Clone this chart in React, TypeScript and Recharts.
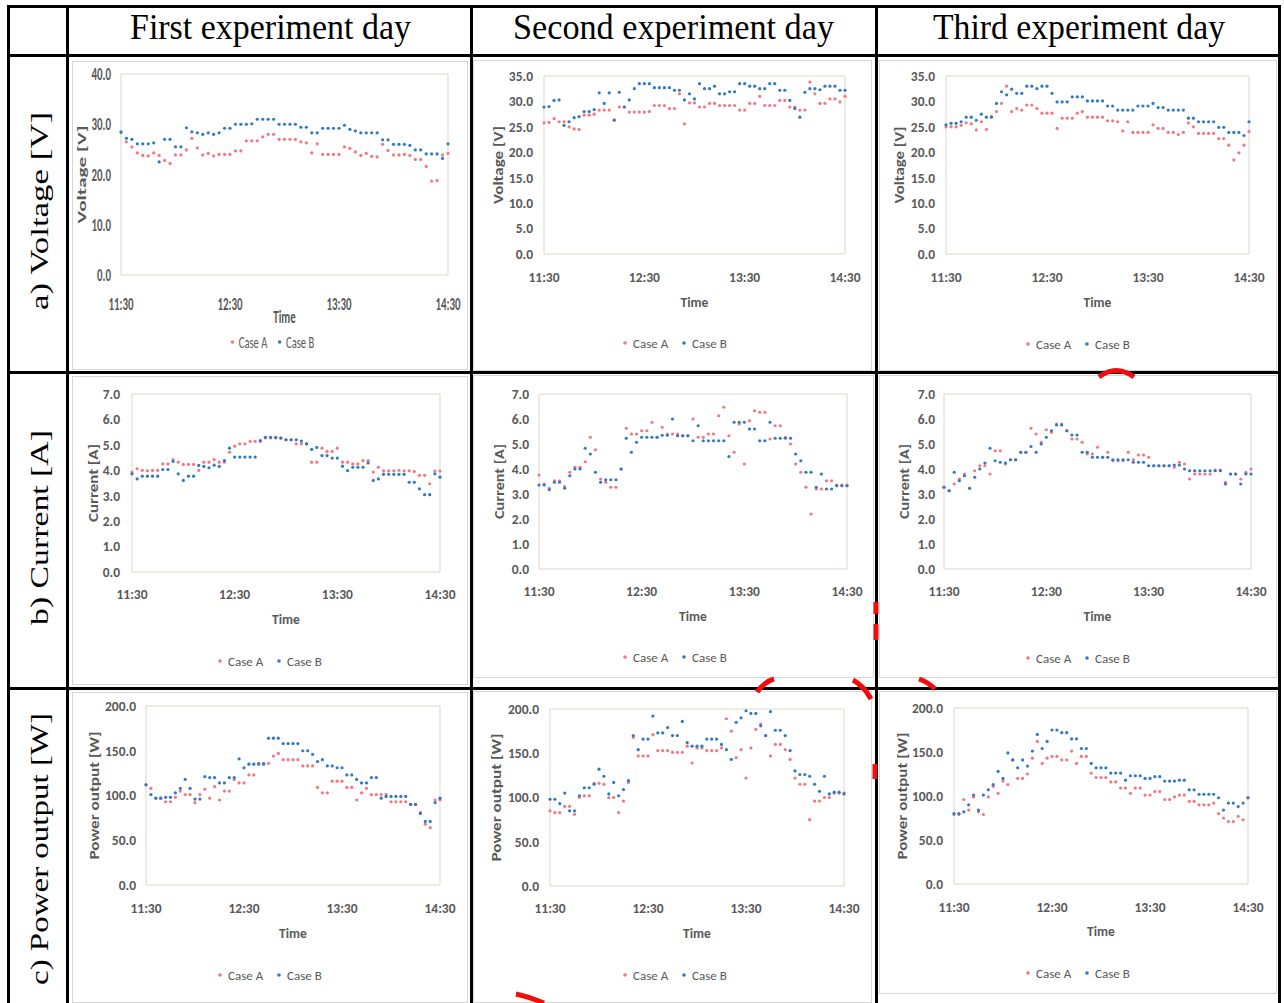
/**
 * Three experiment days x three quantities (voltage, current, power),
 * Case A vs Case B scatter panels laid out in a bordered table.
 */
import { ScatterChart, Scatter, XAxis, YAxis, ReferenceArea } from 'recharts';

const CHART_FONT = "Carlito, Lato, 'Open Sans', sans-serif";
const SERIF = "'Liberation Serif', 'Times New Roman', serif";
const RED = '#F3777F';
const BLUE = '#2E7AC4';
const GREY = '#595959';

// minutes after 11:30, one sample every 3 min
const TIME_MIN = [
  0, 3, 6, 9, 12, 15, 18, 21, 24, 27,
  30, 33, 36, 39, 42, 45, 48, 51, 54, 57,
  60, 63, 66, 69, 72, 75, 78, 81, 84, 87,
  90, 93, 96, 99, 102, 105, 108, 111, 114, 117,
  120, 123, 126, 129, 132, 135, 138, 141, 144, 147,
  150, 153, 156, 159, 162, 165, 168, 171, 174, 177,
  180,
];
const X_TICKS = [0, 60, 120, 180];
const X_TICK_LABELS = ['11:30', '12:30', '13:30', '14:30'];
const V_TICKS_40 = [0, 10, 20, 30, 40];
const V_TICKS_35 = [0, 5, 10, 15, 20, 25, 30, 35];
const I_TICKS = [0, 1, 2, 3, 4, 5, 6, 7];
const P_TICKS = [0, 50, 100, 150, 200];
const DAY_TITLES = ['First experiment day', 'Second experiment day', 'Third experiment day'];
const ROW_TITLES = ['a) Voltage [V]', 'b) Current [A]', 'c) Power output [W]'];
const Y_TITLES = ['Voltage [V]', 'Current [A]', 'Power output [W]'];
const SERIES_NAMES = ['Case A', 'Case B'];

// ---- voltage [V]
const V1_A = [
  28.3, 26.5, 25.5, 24.3, 23.8, 23.7, 24.3, 23.8, 22.8, 22.2,
  23.9, 23.9, 24.9, 27.2, 25.3, 23.9, 24.2, 23.7, 24.0, 24.0,
  24.0, 24.7, 24.7, 26.7, 26.7, 26.7, 27.5, 28.0, 28.0, 27.0,
  27.0, 27.0, 27.0, 26.5, 26.3, 24.3, 26.1, 24.0, 24.0, 24.0,
  24.0, 25.5, 25.2, 24.5, 23.8, 24.2, 23.6, 23.5, 26.0, 24.8,
  23.9, 23.9, 24.0, 23.8, 23.0, 23.0, 21.6, 18.7, 18.8, 23.9,
  24.2,
];
const V1_B = [
  28.5, 27.2, 27.0, 26.1, 26.1, 26.1, 26.3, 22.5, 27.0, 27.0,
  25.5, 25.5, 29.3, 28.5, 28.3, 28.0, 28.3, 28.0, 28.3, 29.2,
  29.2, 30.0, 30.0, 30.0, 30.1, 31.0, 31.0, 31.0, 31.0, 30.0,
  30.0, 30.0, 30.0, 29.4, 29.4, 28.3, 28.3, 29.2, 29.2, 29.2,
  29.2, 29.8, 29.0, 28.7, 28.3, 28.3, 28.3, 28.3, 26.9, 26.9,
  26.0, 26.0, 26.0, 25.8, 24.9, 24.9, 24.1, 24.1, 24.1, 23.2,
  26.1,
];
const V2_A = [
  25.8, 25.9, 26.6, 26.0, 26.0, 25.0, 24.6, 24.5, 27.3, 27.3,
  27.5, 28.3, 28.3, 28.3, 26.4, 28.9, 28.9, 27.9, 27.9, 27.9,
  27.9, 28.0, 29.2, 29.2, 29.2, 28.6, 28.6, 31.5, 25.6, 29.7,
  29.7, 28.9, 28.9, 29.6, 29.6, 29.2, 29.2, 29.2, 29.2, 28.3,
  28.3, 29.6, 29.6, 31.0, 29.2, 29.2, 29.2, 30.2, 30.2, 28.9,
  28.9, 28.3, 28.3, 33.8, 31.5, 29.6, 29.6, 30.5, 30.5, 29.9,
  31.0,
];
const V2_B = [
  28.9, 29.0, 30.2, 30.3, 25.3, 26.0, 26.8, 27.0, 28.0, 28.0,
  28.4, 31.7, 29.6, 31.7, 26.3, 31.8, 28.9, 30.3, 32.5, 33.5,
  33.5, 33.5, 32.7, 32.7, 32.7, 32.7, 32.2, 32.2, 30.3, 31.5,
  30.5, 33.5, 32.5, 32.5, 33.0, 31.5, 31.5, 31.9, 31.9, 33.5,
  33.5, 33.0, 33.0, 32.5, 32.5, 33.5, 33.5, 32.2, 32.2, 30.2,
  28.6, 26.9, 31.8, 32.5, 32.5, 32.3, 33.0, 33.0, 33.0, 32.2,
  32.2,
];
const V3_A = [
  25.0, 25.0, 25.0, 25.3, 25.8, 25.6, 24.4, 26.0, 24.5, 27.0,
  28.0, 29.6, 33.0, 28.0, 28.6, 28.3, 29.3, 29.3, 28.6, 27.7,
  27.7, 27.7, 24.7, 26.7, 26.7, 26.7, 27.7, 28.0, 26.9, 26.9,
  26.9, 26.9, 26.2, 26.2, 26.0, 24.2, 26.0, 23.9, 23.9, 23.9,
  23.9, 25.4, 24.7, 24.7, 23.9, 23.9, 23.5, 23.9, 25.8, 25.0,
  23.7, 23.7, 23.7, 23.7, 22.7, 22.7, 21.4, 18.5, 19.9, 21.4,
  24.1,
];
const V3_B = [
  25.4, 25.7, 25.7, 26.0, 26.9, 26.9, 26.3, 27.5, 26.9, 26.9,
  29.6, 31.9, 31.3, 32.4, 31.6, 31.6, 33.0, 33.0, 32.5, 33.0,
  33.0, 31.6, 29.9, 29.9, 29.9, 30.9, 30.9, 30.9, 30.1, 30.1,
  30.1, 30.1, 29.1, 29.1, 28.3, 28.3, 28.3, 28.3, 29.1, 29.1,
  29.1, 29.6, 28.8, 28.8, 28.3, 28.3, 28.3, 28.3, 26.7, 26.7,
  26.0, 26.0, 26.0, 26.0, 24.9, 24.9, 23.9, 23.9, 23.9, 23.3,
  26.0,
];

// ---- current [A]
const I1_A = [
  3.93, 4.06, 4.0, 3.98, 4.0, 4.0, 4.25, 4.25, 4.42, 4.32,
  4.23, 4.23, 4.23, 4.0, 4.32, 4.32, 4.42, 4.32, 4.32, 4.71,
  4.95, 5.04, 5.04, 5.14, 5.14, 5.14, 5.27, 5.27, 5.27, 5.25,
  5.2, 5.2, 5.04, 5.04, 5.04, 4.32, 4.32, 4.87, 4.74, 4.74,
  4.87, 4.32, 4.32, 4.25, 4.25, 4.38, 4.38, 3.93, 4.12, 3.98,
  3.98, 3.98, 4.0, 3.98, 3.98, 3.95, 3.8, 3.8, 3.47, 3.97,
  3.97,
];
const I1_B = [
  3.86, 3.66, 3.77, 3.77, 3.77, 3.77, 4.03, 4.03, 4.35, 3.86,
  3.6, 3.77, 3.77, 4.19, 4.15, 4.1, 4.2, 4.15, 4.38, 4.87,
  4.52, 4.52, 4.52, 4.52, 4.52, 5.17, 5.3, 5.3, 5.3, 5.28,
  5.2, 5.2, 5.2, 5.15, 5.04, 4.82, 4.9, 4.58, 4.58, 4.48,
  4.48, 4.16, 3.99, 4.12, 4.12, 4.12, 4.29, 3.6, 3.66, 3.84,
  3.84, 3.84, 3.84, 3.84, 3.53, 3.53, 3.27, 3.04, 3.04, 3.86,
  3.73,
];
const I2_A = [
  3.76, 3.4, 3.23, 3.53, 3.53, 3.3, 3.87, 4.07, 4.07, 4.29,
  5.27, 4.77, 3.6, 3.47, 3.27, 3.27, 4.0, 5.63, 5.4, 5.4,
  5.53, 5.53, 5.87, 5.27, 5.67, 5.4, 5.4, 5.4, 5.33, 5.33,
  6.0, 5.27, 5.27, 5.4, 5.4, 6.13, 6.47, 5.33, 4.67, 5.8,
  4.2, 5.93, 6.33, 6.27, 6.27, 5.2, 5.73, 5.73, 5.27, 5.0,
  4.2, 3.87, 3.27, 2.2, 3.2, 3.2, 3.53, 3.53, 3.36, 3.36,
  3.36,
];
const I2_B = [
  3.36, 3.36, 3.17, 3.47, 3.47, 3.23, 3.73, 4.0, 4.0, 4.83,
  4.6, 3.87, 3.47, 3.57, 3.57, 3.57, 4.0, 5.23, 4.67, 5.07,
  5.27, 5.27, 5.27, 5.27, 5.35, 5.35, 6.0, 5.33, 5.33, 5.33,
  5.13, 5.73, 5.13, 5.13, 5.13, 5.13, 5.13, 4.5, 5.87, 5.87,
  5.87, 5.6, 5.6, 5.13, 5.13, 5.87, 5.23, 5.23, 5.23, 5.23,
  4.6, 4.33, 3.87, 3.87, 3.27, 3.8, 3.2, 3.2, 3.33, 3.33,
  3.33,
];
const I3_A = [
  3.27, 3.13, 3.4, 3.6, 3.8, 3.23, 3.93, 4.13, 4.13, 3.8,
  4.73, 4.73, 4.2, 4.37, 4.37, 4.67, 4.67, 5.63, 5.4, 5.07,
  5.57, 5.47, 5.8, 5.8, 5.53, 5.2, 5.2, 5.07, 4.6, 4.6,
  4.87, 4.47, 4.67, 4.33, 4.33, 4.33, 4.67, 4.37, 4.56, 4.56,
  4.47, 4.13, 4.13, 4.13, 4.13, 4.07, 4.27, 4.2, 3.6, 3.8,
  3.8, 3.8, 3.8, 3.96, 3.96, 3.47, 3.8, 3.8, 3.6, 3.87,
  4.0,
];
const I3_B = [
  3.27, 3.13, 3.87, 3.53, 3.73, 3.23, 3.67, 4.0, 4.24, 4.83,
  4.33, 4.27, 4.24, 4.37, 4.37, 4.67, 4.67, 4.9, 4.67, 5.0,
  5.27, 5.53, 5.76, 5.76, 5.53, 5.36, 5.36, 4.67, 4.67, 4.47,
  4.47, 4.47, 4.47, 4.37, 4.37, 4.37, 4.37, 4.27, 4.27, 4.27,
  4.13, 4.13, 4.13, 4.13, 4.13, 4.16, 4.16, 4.0, 3.93, 3.93,
  3.93, 3.93, 3.93, 3.93, 3.93, 3.4, 3.8, 3.8, 3.4, 3.8,
  3.8,
];

// ---- power output [W]
const P1_A = [
  112, 108, 97, 97, 93, 93, 98, 105, 101, 101,
  92, 101, 107, 97, 110, 95, 105, 105, 118, 114,
  114, 123, 123, 136, 136, 136, 144, 147, 140, 140,
  140, 140, 133, 133, 133, 109, 103, 103, 116, 116,
  116, 109, 109, 95, 103, 108, 101, 101, 101, 101,
  93, 93, 93, 93, 90, 90, 81, 68, 64, 95,
  95,
];
const P1_B = [
  112, 101, 97, 97, 98, 98, 103, 108, 118, 108,
  96, 96, 121, 120, 120, 114, 114, 120, 120, 141,
  131, 135, 135, 135, 135, 164, 164, 164, 158, 158,
  158, 158, 150, 150, 146, 138, 140, 133, 133, 131,
  131, 123, 123, 118, 114, 114, 120, 120, 97, 99,
  99, 99, 99, 99, 90, 90, 80, 71, 71, 92,
  97,
];
const P2_A = [
  85, 83, 83, 90, 90, 81, 100, 102, 102, 116,
  116, 115, 100, 100, 83, 96, 117, 168, 147, 147,
  147, 171, 153, 153, 153, 151, 151, 151, 158, 139,
  156, 156, 153, 153, 153, 156, 189, 175, 145, 154,
  122, 156, 177, 183, 170, 147, 160, 160, 154, 143,
  122, 115, 115, 75, 96, 96, 100, 100, 105, 105,
  105,
];
const P2_B = [
  98, 98, 93, 105, 85, 85, 102, 111, 111, 115,
  132, 124, 104, 117, 102, 109, 119, 170, 154, 166,
  166, 192, 173, 173, 179, 170, 170, 186, 162, 158,
  158, 158, 166, 166, 166, 160, 154, 143, 185, 190,
  198, 195, 195, 181, 170, 197, 176, 176, 170, 153,
  130, 126, 126, 124, 115, 107, 124, 104, 106, 106,
  104,
];
const P3_A = [
  79, 79, 96, 84, 99, 82, 79, 99, 111, 103,
  117, 113, 141, 120, 120, 125, 143, 162, 137, 143,
  145, 145, 141, 141, 151, 137, 145, 145, 126, 121,
  121, 121, 116, 116, 109, 109, 103, 109, 109, 101,
  101, 105, 105, 96, 96, 99, 101, 101, 94, 94,
  90, 90, 90, 92, 80, 75, 71, 71, 77, 73,
  98,
];
const P3_B = [
  80, 80, 82, 90, 101, 84, 101, 107, 113, 128,
  120, 149, 141, 132, 141, 134, 151, 170, 154, 162,
  175, 175, 172, 172, 165, 165, 154, 154, 137, 132,
  132, 132, 126, 126, 126, 118, 123, 123, 123, 120,
  120, 122, 122, 117, 117, 117, 118, 118, 107, 107,
  102, 102, 102, 102, 98, 84, 92, 92, 88, 92,
  98,
];

type Panel = {
  frame: [number, number, number, number]; // left, top, width, height (page px)
  plot: [number, number, number, number]; // plot area left, top, right, bottom (page px)
  ticks: number[];
  yTitle: string;
  a: number[];
  b: number[];
  yGap: number; // tick text right edge -> plot left
  xGap: number; // plot bottom -> x tick text centre
  titleX: number;
  titleLen: number;
  titleFs: number;
  timeY: number;
  legendX: number;
  legendY: number;
  fs: number;
  sx: number; // horizontal squeeze of the (stretched) first picture
};

const PANELS: Panel[] = [
  { frame: [72, 61, 396, 309], plot: [121, 74, 448, 275], ticks: V_TICKS_40, yTitle: Y_TITLES[0], a: V1_A, b: V1_B,
    yGap: 10, xGap: 29, titleX: 81, titleLen: 98, titleFs: 12.5, timeY: 317, legendX: 274, legendY: 342, fs: 17, sx: 0.64 },
  { frame: [473, 60, 399, 311], plot: [544, 76, 845, 254], ticks: V_TICKS_35, yTitle: Y_TITLES[0], a: V2_A, b: V2_B,
    yGap: 11, xGap: 23, titleX: 498, titleLen: 78, titleFs: 13, timeY: 302, legendX: 677, legendY: 343, fs: 13.5, sx: 1 },
  { frame: [879, 60, 398, 311], plot: [946, 76, 1249, 254], ticks: V_TICKS_35, yTitle: Y_TITLES[0], a: V3_A, b: V3_B,
    yGap: 11, xGap: 23, titleX: 899, titleLen: 77, titleFs: 13, timeY: 302, legendX: 1080, legendY: 344, fs: 13.5, sx: 1 },
  { frame: [72, 376, 396, 309], plot: [132, 394, 440, 572], ticks: I_TICKS, yTitle: Y_TITLES[1], a: I1_A, b: I1_B,
    yGap: 12, xGap: 22, titleX: 93, titleLen: 78, titleFs: 13, timeY: 619, legendX: 272, legendY: 661, fs: 13.5, sx: 1 },
  { frame: [473, 375, 401, 303], plot: [539, 394, 847, 569], ticks: I_TICKS, yTitle: Y_TITLES[1], a: I2_A, b: I2_B,
    yGap: 10, xGap: 22, titleX: 499, titleLen: 75, titleFs: 13, timeY: 616, legendX: 677, legendY: 657, fs: 13.5, sx: 1 },
  { frame: [879, 375, 398, 303], plot: [944, 394, 1251, 569], ticks: I_TICKS, yTitle: Y_TITLES[1], a: I3_A, b: I3_B,
    yGap: 9, xGap: 22, titleX: 904, titleLen: 75, titleFs: 13, timeY: 616, legendX: 1080, legendY: 658, fs: 13.5, sx: 1 },
  { frame: [72, 692, 396, 311], plot: [146, 706, 440, 885], ticks: P_TICKS, yTitle: Y_TITLES[2], a: P1_A, b: P1_B,
    yGap: 10, xGap: 23, titleX: 94, titleLen: 128, titleFs: 13, timeY: 933, legendX: 272, legendY: 975, fs: 13.5, sx: 1 },
  { frame: [473, 691, 399, 312], plot: [550, 709, 844, 886], ticks: P_TICKS, yTitle: Y_TITLES[2], a: P2_A, b: P2_B,
    yGap: 11, xGap: 22, titleX: 496, titleLen: 128, titleFs: 13, timeY: 933, legendX: 677, legendY: 975, fs: 13.5, sx: 1 },
  { frame: [879, 691, 398, 303], plot: [954, 708, 1248, 884], ticks: P_TICKS, yTitle: Y_TITLES[2], a: P3_A, b: P3_B,
    yGap: 11, xGap: 23, titleX: 902, titleLen: 127, titleFs: 13, timeY: 931, legendX: 1080, legendY: 973, fs: 13.5, sx: 1 },
];

const Y_AXIS_W = 40;
const X_AXIS_H = 40;

function dot(color: string) {
  return (props: any) => <circle cx={props.cx} cy={props.cy} r={1.6} fill={color} />;
}

function ChartCell({ p }: { p: Panel }) {
  const [fx, fy, fw, fh] = p.frame;
  const [pl, pt, pr, pb] = p.plot;
  const yMax = p.ticks[p.ticks.length - 1];
  const margin = {
    left: pl - fx - Y_AXIS_W,
    top: pt - fy,
    right: fx + fw - pr,
    bottom: fy + fh - pb - X_AXIS_H,
  };
  const dataA = TIME_MIN.map((t, i) => ({ t, v: p.a[i] }));
  const dataB = TIME_MIN.map((t, i) => ({ t, v: p.b[i] }));
  const textStyle = { fill: GREY, fontFamily: CHART_FONT, fontWeight: 700 };
  const k = p.sx < 1 ? 0.8 : 1; // legend spacing of the squeezed panel
  const lfs = p.fs - 0.5;

  return (
    <div style={{ position: 'absolute', left: fx, top: fy, width: fw, height: fh, background: '#fff' }}>
      <div style={{ position: 'absolute', inset: 0, border: '1px solid #d6d6d6' }} />
      <ScatterChart width={fw} height={fh} margin={margin}>
        <XAxis
          type="number"
          dataKey="t"
          domain={[0, 180]}
          ticks={X_TICKS}
          interval={0}
          height={X_AXIS_H}
          axisLine={false}
          tickLine={false}
          tickSize={0}
          tickMargin={p.xGap}
          tick={(tp: any) => (
            <text transform={`translate(${tp.x},${tp.y}) scale(${p.sx},1)`} textAnchor="middle" dy="0.36em"
              fontSize={p.fs} {...textStyle}>
              {X_TICK_LABELS[X_TICKS.indexOf(tp.payload.value)]}
            </text>
          )}
        />
        <YAxis
          type="number"
          dataKey="v"
          domain={[0, yMax]}
          ticks={p.ticks}
          interval={0}
          width={Y_AXIS_W}
          axisLine={false}
          tickLine={false}
          tickSize={0}
          tickMargin={p.yGap}
          tick={(tp: any) => (
            <text transform={`translate(${tp.x},${tp.y}) scale(${p.sx},1)`} textAnchor="end" dy="0.36em"
              fontSize={p.fs} {...textStyle}>
              {Number(tp.payload.value).toFixed(1)}
            </text>
          )}
        />
        <ReferenceArea x1={0} x2={180} y1={0} y2={yMax} fill="none" stroke="#ddd7c4" strokeWidth={1} />
        <Scatter name={SERIES_NAMES[0]} data={dataA} fill={RED} shape={dot(RED)} isAnimationActive={false} />
        <Scatter name={SERIES_NAMES[1]} data={dataB} fill={BLUE} shape={dot(BLUE)} isAnimationActive={false} />
      </ScatterChart>
      <svg width={fw} height={fh} style={{ position: 'absolute', left: 0, top: 0, pointerEvents: 'none' }}>
        <text
          transform={`translate(${p.titleX - fx},${(pt + pb) / 2 - fy}) rotate(-90)`}
          textAnchor="middle" dy="0.36em" fontSize={p.titleFs} {...textStyle}
          textLength={p.titleLen} lengthAdjust="spacingAndGlyphs"
        >
          {p.yTitle}
        </text>
        <text transform={`translate(${(pl + pr) / 2 - fx},${p.timeY - fy}) scale(${p.sx},1)`}
          textAnchor="middle" dy="0.36em" fontSize={p.fs} {...textStyle}>
          Time
        </text>
        <g transform={`translate(${p.legendX - fx},${p.legendY - fy})`}>
          <circle cx={-52 * k} cy={0} r={1.8} fill={RED} />
          <text transform={`translate(${-44 * k},0) scale(${p.sx},1)`} dy="0.36em" fontSize={lfs}
            fill={GREY} fontFamily={CHART_FONT}>{SERIES_NAMES[0]}</text>
          <circle cx={7 * k} cy={0} r={1.8} fill={BLUE} />
          <text transform={`translate(${15 * k},0) scale(${p.sx},1)`} dy="0.36em" fontSize={lfs}
            fill={GREY} fontFamily={CHART_FONT}>{SERIES_NAMES[1]}</text>
        </g>
      </svg>
    </div>
  );
}

// table rules
const H_RULES = [5, 54, 371, 687];
const V_RULES = [7, 66, 470, 875, 1278];
const HEAD_X = [270.5, 673.5, 1079];
const HEAD_LEN = [281, 321, 292];
const ROW_Y = [211, 527.5, 849];
const ROW_LEN = [198, 195, 272];

// leftover red marker strokes visible between the panels of the source figure
const RED_MARKS = [
  'M1099 377 Q1116 364 1134 377',
  'M876 602 L876 614 M876 624 L876 640',
  'M757 692 Q764 682 774 679',
  'M853 680 Q864 686 871 699',
  'M919 679 Q928 682 935 689',
  'M875 764 L875 779',
  'M516 994 Q530 997 544 1003',
];

export default function App() {
  return (
    <div style={{ position: 'absolute', left: 0, top: 0, width: 1284, height: 1003, background: '#fff', overflow: 'hidden' }}>
      {PANELS.map((p, i) => <ChartCell key={i} p={p} />)}
      {H_RULES.map((y) => (
        <div key={`h${y}`} style={{ position: 'absolute', left: 7, top: y, width: 1274, height: 3, background: '#000' }} />
      ))}
      {V_RULES.map((x) => (
        <div key={`v${x}`} style={{ position: 'absolute', left: x, top: 5, width: 3, height: 998, background: '#000' }} />
      ))}
      <svg width={1284} height={1003} style={{ position: 'absolute', left: 0, top: 0, pointerEvents: 'none' }}>
        {RED_MARKS.map((d, i) => (
          <path key={i} d={d} fill="none" stroke="#f20d0d" strokeWidth={5} />
        ))}
        {DAY_TITLES.map((t, i) => (
          <text key={t} x={HEAD_X[i]} y={39} textAnchor="middle" fontSize={35} fontFamily={SERIF} fill="#000"
            textLength={HEAD_LEN[i]} lengthAdjust="spacingAndGlyphs">{t}</text>
        ))}
        {ROW_TITLES.map((t, i) => (
          <text key={t} transform={`translate(48,${ROW_Y[i]}) rotate(-90)`} textAnchor="middle" fontSize={25}
            fontFamily={SERIF} fill="#000" textLength={ROW_LEN[i]} lengthAdjust="spacingAndGlyphs">{t}</text>
        ))}
      </svg>
    </div>
  );
}
